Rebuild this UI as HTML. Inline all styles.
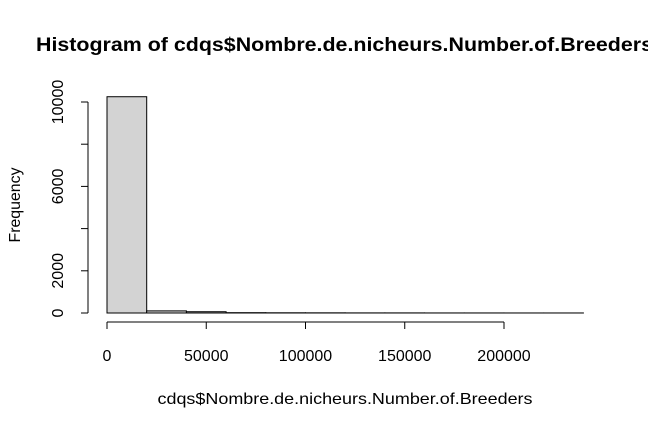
<!DOCTYPE html>
<html><head><meta charset="utf-8"><style>
html,body{margin:0;padding:0;background:#fff;}
svg{display:block;font-family:"Liberation Sans",sans-serif;}
</style></head><body>
<svg id="c" width="648" height="432">
<text x="36" y="51" font-size="19" font-weight="bold" textLength="617" lengthAdjust="spacingAndGlyphs">Histogram of cdqs$Nombre.de.nicheurs.Number.of.Breeders</text>
<text transform="translate(20,205) rotate(-90)" text-anchor="middle" font-size="16" textLength="75" lengthAdjust="spacingAndGlyphs">Frequency</text>
<text x="345" y="404" text-anchor="middle" font-size="16" textLength="375" lengthAdjust="spacingAndGlyphs">cdqs$Nombre.de.nicheurs.Number.of.Breeders</text>
<g id="bars"></g><g id="axes"></g>
</svg>
<script>
const binStarts=[0,20000,40000,60000,80000,100000,120000,140000,160000,180000,200000,220000];
const binWidth=20000;
const counts=[10250,100,60,15,10,8,5,5,3,3,2,2];
const xTicks=[0,50000,100000,150000,200000];
const yTicks=[0,2000,6000,10000];
const yTickLines=[0,2000,4000,6000,8000,10000];
const ns="http://www.w3.org/2000/svg";
const X=v=>107+v*397/200000;
const Y=v=>313-v*211/10000;
function mk(t,a,p){const e=document.createElementNS(ns,t);for(const k in a)e.setAttribute(k,a[k]);p.appendChild(e);return e;}
const bars=document.getElementById('bars'),axes=document.getElementById('axes');
binStarts.forEach((s,i)=>{
 const r=mk('rect',{x:X(s),y:Y(counts[i]),width:X(s+binWidth)-X(s),height:Y(0)-Y(counts[i]),fill:'#d3d3d3',stroke:'#000','stroke-width':1},bars);
 
 
});
const ya=mk('line',{x1:88,x2:88,y1:Y(0),y2:Y(10000),stroke:'#000'},axes);


yTickLines.forEach(v=>{mk('line',{x1:81,x2:88,y1:Y(v),y2:Y(v),stroke:'#000'},axes);});
yTicks.forEach(v=>{
 const t=mk('text',{transform:`translate(63,${Y(v)}) rotate(-90)`,'text-anchor':'middle','font-size':16},axes);
 t.textContent=v;
 
 
});
const xa=mk('line',{x1:X(0),x2:X(200000),y1:322,y2:322,stroke:'#000'},axes);


xTicks.forEach(v=>{
 mk('line',{x1:X(v),x2:X(v),y1:322,y2:329,stroke:'#000'},axes);
 const t=mk('text',{x:X(v),y:361,'text-anchor':'middle','font-size':16},axes);
 t.textContent=v;
 
 
});
</script>
</body></html>
